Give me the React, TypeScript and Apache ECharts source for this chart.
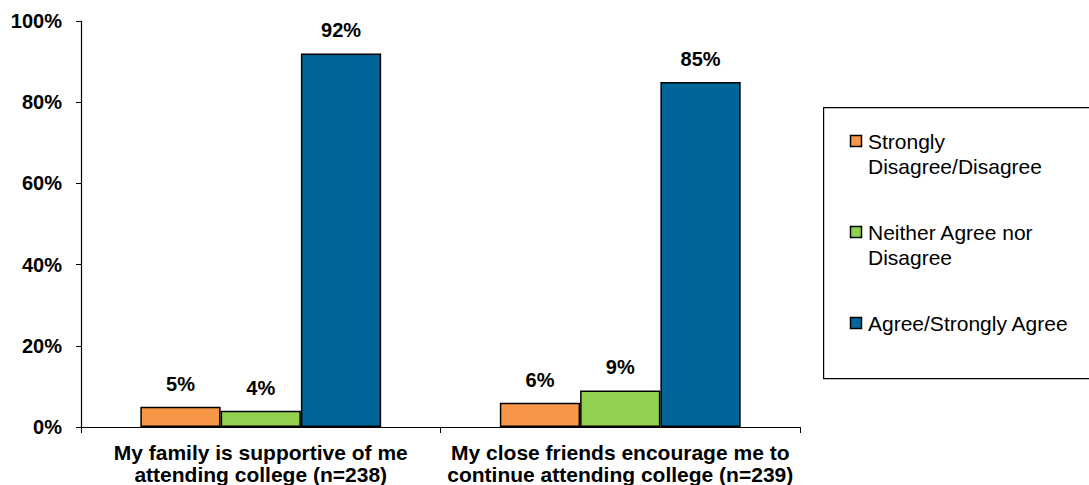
import React, { useEffect, useRef } from "react";
import * as echarts from "echarts";

const categories = [
  "My family is supportive of me\nattending college (n=238)",
  "My close friends encourage me to\ncontinue attending college (n=239)",
];
const seriesNames = ["Strongly Disagree/Disagree", "Neither Agree nor Disagree", "Agree/Strongly Agree"];
const legendLabels = ["Strongly\nDisagree/Disagree", "Neither Agree nor\nDisagree", "Agree/Strongly Agree"];
const disagreeValues = [5, 6];
const neutralValues = [4, 9];
const agreeValues = [92, 85];
const colors = ["#F79646", "#92D050", "#006699"];
const yTicks = [0, 20, 40, 60, 80, 100];

export default function App() {
  const ref = useRef<HTMLDivElement>(null);
  useEffect(() => {
    if (!ref.current) return;
    const chart = echarts.init(ref.current, undefined, { renderer: "svg" });
    const values = [disagreeValues, neutralValues, agreeValues];
    const font = "Arial, 'Liberation Sans', sans-serif";
    const legendTops = [129, 220, 311];
    const legendGraphics: any[] = [
      {
        type: "rect",
        left: 823,
        top: 107,
        shape: { x: 0, y: 0, width: 290, height: 271 },
        style: { fill: "#fff", stroke: "#000", lineWidth: 1.2 },
      },
    ];
    legendLabels.forEach((lbl, i) => {
      legendGraphics.push({
        type: "rect",
        shape: { x: 850.5, y: legendTops[i] + 6.5, width: 11, height: 11 },
        style: { fill: colors[i], stroke: "#000", lineWidth: 1.5 },
      });
      legendGraphics.push({
        type: "text",
        x: 868,
        y: legendTops[i],
        style: {
          text: lbl,
          font: `21px ${font}`,
          fill: "#000",
          lineHeight: 25,
          textVerticalAlign: "top",
        },
      });
    });
    chart.setOption({
      animation: false,
      backgroundColor: "#fff",
      grid: { left: 81, right: 289, top: 21, bottom: 58, containLabel: false, outerBoundsMode: "none" },
      xAxis: {
        type: "category",
        data: categories,
        axisLine: { lineStyle: { color: "#000", width: 1.2 } },
        axisTick: { show: true, length: 6, alignWithLabel: false, lineStyle: { color: "#000" } },
        axisLabel: {
          color: "#000",
          fontWeight: "bold",
          fontSize: 21,
          fontFamily: font,
          lineHeight: 22,
          margin: 14,
          interval: 0,
        },
      },
      yAxis: {
        type: "value",
        min: 0,
        max: 100,
        interval: 20,
        splitLine: { show: false },
        axisLine: { show: true, lineStyle: { color: "#000", width: 1.2 } },
        axisTick: { show: true, length: 5, lineStyle: { color: "#000" } },
        axisLabel: {
          color: "#000",
          fontWeight: "bold",
          fontSize: 20,
          fontFamily: font,
          margin: 19,
          formatter: (v: number) => (yTicks.includes(v) ? `${v}%` : ""),
        },
      },
      series: seriesNames.map((name, i) => ({
        name,
        type: "bar",
        data: values[i],
        barGap: "0%",
        barCategoryGap: "33%",
        itemStyle: { color: colors[i], borderColor: "#000", borderWidth: 1.5 },
        label: {
          show: true,
          position: "top",
          distance: 13,
          formatter: "{c}%",
          color: "#000",
          fontWeight: "bold",
          fontSize: 20,
          fontFamily: font,
        },
      })),
      graphic: legendGraphics,
    });
    return () => chart.dispose();
  }, []);
  return (
    <div
      ref={ref}
      style={{ position: "fixed", left: 0, top: 0, width: 1089, height: 485, background: "#fff" }}
    />
  );
}
